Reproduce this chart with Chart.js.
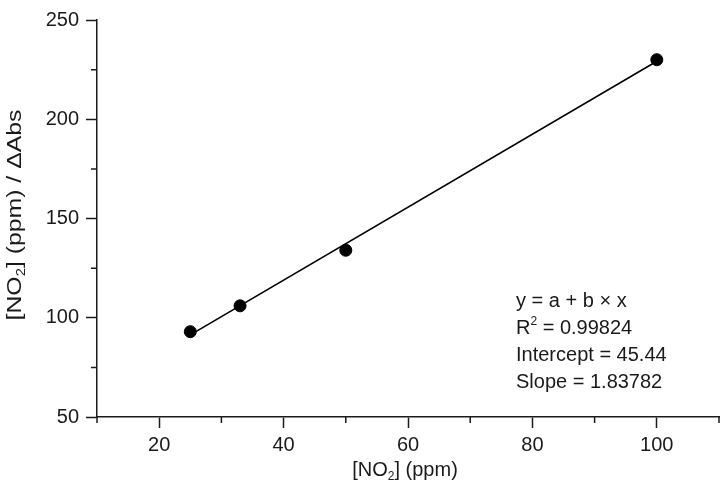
<!DOCTYPE html>
<html>
<head>
<meta charset="utf-8">
<script src="https://cdn.jsdelivr.net/npm/chart.js@4.4.1/dist/chart.umd.min.js"></script>
<style>
  body { margin: 0; background: #fff; }
  #wrap { width: 727px; height: 493px; }
</style>
</head>
<body>
<div id="wrap"><canvas id="calChart"></canvas></div>
<script>
// measured points
const concNO2 = [25, 33, 50, 100];
const ratioAbs = [93, 106, 134, 230];
// linear fit end points
const fitX = [25, 100];
const fitY = [91.4, 229.2];
// axes
const xTicks = [20, 40, 60, 80, 100];
const yTicks = [50, 100, 150, 200, 250];
const xMinor = [10, 30, 50, 70, 90, 110];
const yMinor = [75, 125, 175, 225];
const fitText = [
    [{ t: 'y = a + b × x' }],
    [{ t: 'R' }, { t: '2', sup: true }, { t: ' = 0.99824' }],
    [{ t: 'Intercept = 45.44' }],
    [{ t: 'Slope = 1.83782' }]
];

const FONT = '"Liberation Sans", Arial, sans-serif';
const INK = '#1a1a1a';

function drawRich(ctx, parts, x, y, align) {
    const big = '20px ' + FONT, small = '12px ' + FONT;
    let w = 0;
    parts.forEach(p => { ctx.font = (p.sub || p.sup) ? small : big; w += ctx.measureText(p.t).width; });
    let cx = align === 'center' ? x - w / 2 : x;
    ctx.textBaseline = 'middle';
    ctx.textAlign = 'left';
    parts.forEach(p => {
        ctx.font = (p.sub || p.sup) ? small : big;
        let dy = p.sub ? 7 : (p.sup ? -6 : 0);
        ctx.fillText(p.t, cx, y + dy);
        cx += ctx.measureText(p.t).width;
    });
}

const extras = {
    id: 'extras',
    afterDraw(chart) {
        const ctx = chart.ctx;
        const xs = chart.scales.x, ys = chart.scales.y;
        const area = chart.chartArea;
        ctx.save();
        // minor ticks
        ctx.strokeStyle = INK;
        ctx.lineWidth = 1.5;
        ctx.beginPath();
        xMinor.forEach(v => {
            const px = xs.getPixelForValue(v);
            ctx.moveTo(px, area.bottom);
            ctx.lineTo(px, area.bottom + 6);
        });
        yMinor.forEach(v => {
            const py = ys.getPixelForValue(v);
            ctx.moveTo(area.left, py);
            ctx.lineTo(area.left - 6, py);
        });
        ctx.stroke();

        ctx.fillStyle = INK;
        // axis titles
        drawRich(ctx, [{ t: '[NO' }, { t: '2', sub: true }, { t: '] (ppm)' }], 405, 470, 'center');
        ctx.save();
        ctx.translate(15, 215);
        ctx.rotate(-Math.PI / 2);
        ctx.scale(1.24, 1);
        drawRich(ctx, [{ t: '[NO' }, { t: '2', sub: true }, { t: '] (ppm) / ΔAbs' }], 0, 0, 'center');
        ctx.restore();

        // fit results
        fitText.forEach((line, i) => {
            drawRich(ctx, line, 516, 301 + i * 27, 'left');
        });
        ctx.restore();
    }
};

const axisCommon = {
    type: 'linear',
    grid: { drawOnChartArea: false, drawTicks: true, tickLength: 11, tickColor: INK, tickWidth: 1.5 },
    border: { display: true, color: INK, width: 1.5 },
    ticks: { color: INK, font: { family: FONT, size: 20 }, maxRotation: 0 }
};

new Chart(document.getElementById('calChart'), {
    type: 'scatter',
    data: {
        datasets: [{
            label: 'data',
            data: concNO2.map((v, i) => ({ x: v, y: ratioAbs[i] })),
            backgroundColor: '#000',
            borderColor: '#000',
            pointRadius: 6,
            order: 1
        }, {
            label: 'fit',
            data: fitX.map((v, i) => ({ x: v, y: fitY[i] })),
            showLine: true,
            borderColor: '#000',
            borderWidth: 1.6,
            pointRadius: 0,
            order: 2
        }]
    },
    options: {
        responsive: true,
        maintainAspectRatio: false,
        animation: false,
        layout: { padding: { top: 20, right: 8, left: 0, bottom: 0 } },
        plugins: { legend: { display: false }, tooltip: { enabled: false } },
        scales: {
            x: Object.assign({}, axisCommon, {
                min: 10, max: 110,
                afterBuildTicks: s => { s.ticks = xTicks.map(v => ({ value: v })); },
                afterFit: s => { s.height = 76; },
                ticks: Object.assign({}, axisCommon.ticks, { padding: 5 })
            }),
            y: Object.assign({}, axisCommon, {
                min: 50, max: 250,
                afterBuildTicks: s => { s.ticks = yTicks.map(v => ({ value: v })); },
                afterFit: s => { s.width = 97; },
                ticks: Object.assign({}, axisCommon.ticks, { padding: 7 })
            })
        }
    },
    plugins: [extras]
});
</script>
</body>
</html>
